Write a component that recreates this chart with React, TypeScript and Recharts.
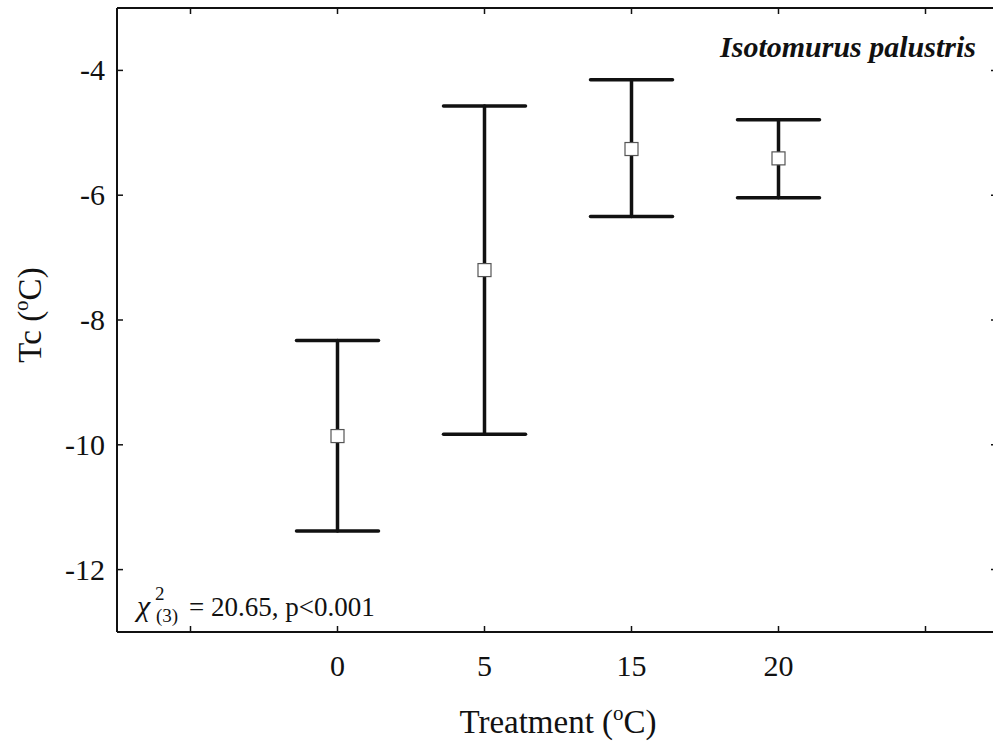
import React from 'react';
import { ComposedChart, Scatter, XAxis, YAxis, ErrorBar, Label, Customized } from 'recharts';

// Treatment groups and critical temperature (Tc) summary values
const treatments = ['0', '5', '15', '20'];
const tcMean = [-9.86, -7.2, -5.26, -5.41];
const tcLower = [-11.38, -9.83, -6.34, -6.04];
const tcUpper = [-8.33, -4.57, -4.15, -4.79];
const yTicks = [-12, -10, -8, -6, -4];
const xTicks = [-1, 0, 1, 2, 3, 4];

const data = treatments.map((label, i) => ({
  pos: i,
  label,
  mean: tcMean[i],
  err: [tcMean[i] - tcLower[i], tcUpper[i] - tcMean[i]],
}));

const FONT = '"Liberation Serif", "Times New Roman", serif';
const INK = '#111';

const axisLine = { stroke: INK, strokeWidth: 2 };
const tickLine = { stroke: INK, strokeWidth: 1.5 };

const xFormat = (v: number) => (v >= 0 && v < treatments.length ? treatments[v] : '');
const blank = () => '';

const XTick = (props: any) => {
  const { x, y, payload } = props;
  const text = xFormat(payload.value);
  if (!text) return null;
  return (
    <text x={x} y={y + 22} textAnchor="middle" fontFamily={FONT} fontSize={30} fill={INK}>
      {text}
    </text>
  );
};

const YTick = (props: any) => {
  const { x, y, payload } = props;
  return (
    <text x={x} y={y + 10} textAnchor="end" fontFamily={FONT} fontSize={30} fill={INK}>
      {payload.value}
    </text>
  );
};

const MeanSquare = (props: any) => {
  const { cx, cy } = props;
  if (cx == null || cy == null) return null;
  return (
    <rect x={cx - 6.5} y={cy - 6.5} width={13} height={13} fill="#fff" stroke="#555" strokeWidth={1.2} />
  );
};

const XTitle = (props: any) => {
  const vb = props.viewBox || {};
  const cx = vb.x + vb.width / 2;
  return (
    <text x={cx} y={vb.y + 101} textAnchor="middle" fontFamily={FONT} fontSize={33} fill={INK}>
      Treatment (<tspan fontSize={21} dy={-13}>o</tspan>
      <tspan dy={13}>C)</tspan>
    </text>
  );
};

const YTitle = (props: any) => {
  const vb = props.viewBox || {};
  const x = vb.x + 4;
  const y = vb.y + vb.height / 2 - 5;
  return (
    <text
      x={x}
      y={y}
      transform={`rotate(-90, ${x}, ${y})`}
      textAnchor="middle"
      fontFamily={FONT}
      fontSize={33}
      fill={INK}
    >
      Tc (<tspan fontSize={21} dy={-13}>o</tspan>
      <tspan dy={13}>C)</tspan>
    </text>
  );
};

const Annotations = () => (
  <g fontFamily={FONT} fill={INK}>
    <text x={976} y={57} textAnchor="end" fontSize={30} fontStyle="italic" fontWeight="bold">
      Isotomurus palustris
    </text>
    <text fontSize={27}>
      <tspan x={137} y={616} fontSize={30} fontStyle="italic">χ</tspan>
      <tspan x={155} y={600} fontSize={19}>2</tspan>
      <tspan x={156} y={622} fontSize={19}>(3)</tspan>
      <tspan x={189} y={616}>= 20.65, p&lt;0.001</tspan>
    </text>
  </g>
);

export default function App() {
  return (
    <div
      style={{
        position: 'absolute',
        left: 0,
        top: 0,
        width: 993,
        height: 750,
        overflow: 'hidden',
        background: '#fff',
        fontFamily: FONT,
      }}
    >
      <ComposedChart
        width={1010}
        height={750}
        data={data}
        margin={{ top: 7, right: 10, bottom: 18, left: 37 }}
      >
        <XAxis
          xAxisId="bottom"
          dataKey="pos"
          type="number"
          domain={[-1.5, 4.5]}
          ticks={xTicks}
          tickFormatter={xFormat}
          orientation="bottom"
          height={100}
          axisLine={axisLine}
          tickLine={tickLine}
          tickSize={-6}
          tickMargin={28}
          tick={<XTick />}
          interval={0}
          allowDataOverflow
        >
          <Label content={<XTitle />} />
        </XAxis>
        <XAxis
          xAxisId="top"
          dataKey="pos"
          type="number"
          domain={[-1.5, 4.5]}
          ticks={xTicks}
          tickFormatter={blank}
          orientation="top"
          height={1}
          axisLine={axisLine}
          tickLine={tickLine}
          tickSize={-6}
          interval={0}
          allowDataOverflow
        />
        <YAxis
          yAxisId="left"
          type="number"
          domain={[-13, -3]}
          ticks={yTicks}
          orientation="left"
          width={80}
          axisLine={axisLine}
          tickLine={tickLine}
          tickSize={-6}
          tickMargin={18}
          tick={<YTick />}
          interval={0}
          allowDataOverflow
        >
          <Label content={<YTitle />} />
        </YAxis>
        <YAxis
          yAxisId="right"
          type="number"
          domain={[-13, -3]}
          ticks={yTicks}
          tickFormatter={blank}
          orientation="right"
          width={1}
          axisLine={axisLine}
          tickLine={tickLine}
          tickSize={-8}
          interval={0}
          allowDataOverflow
        />
        <Scatter
          xAxisId="bottom"
          yAxisId="left"
          dataKey="mean"
          shape={<MeanSquare />}
          isAnimationActive={false}
        >
          <ErrorBar
            dataKey="err"
            direction="y"
            width={41}
            stroke={INK}
            strokeWidth={3.5}
            strokeLinecap="round"
            isAnimationActive={false}
          />
        </Scatter>
        <Customized component={<Annotations />} />
      </ComposedChart>
    </div>
  );
}
